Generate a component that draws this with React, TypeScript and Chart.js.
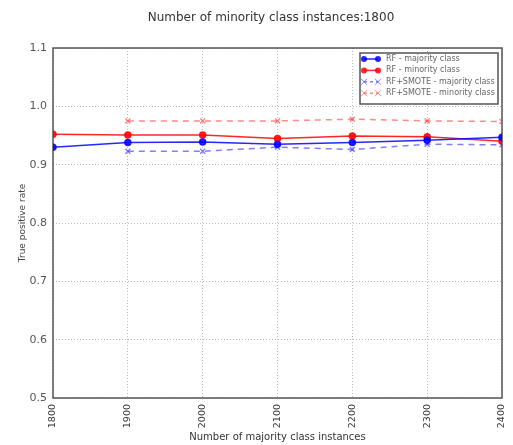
import React, { useEffect, useRef } from "react";
import { Chart, registerables } from "chart.js";
Chart.register(...registerables);

const chartTitle = "Number of minority class instances:1800";
const xTitle = "Number of majority class instances";
const yTitle = "True positive rate";
const categories = [1800, 1900, 2000, 2100, 2200, 2300, 2400];
const rfMajority = [0.93, 0.938, 0.939, 0.935, 0.938, 0.942, 0.947];
const rfMinority = [0.952, 0.951, 0.951, 0.945, 0.949, 0.948, 0.94];
const smoteMajority = [null, 0.923, 0.923, 0.93, 0.926, 0.935, 0.934];
const smoteMinority = [null, 0.975, 0.975, 0.975, 0.978, 0.975, 0.974];
const seriesLabels = [
  "RF - majority class",
  "RF - minority class",
  "RF+SMOTE - majority class",
  "RF+SMOTE - minority class",
];
const yTicks = [0.5, 0.6, 0.7, 0.8, 0.9, 1.0, 1.1];

const FONT = "'DejaVu Sans', sans-serif";

const toPoints = (vals: (number | null)[]) =>
  categories.map((c, i) => ({ x: c, y: vals[i] }));

function drawMarker(ctx: CanvasRenderingContext2D, style: string, x: number, y: number, color: string) {
  ctx.save();
  ctx.setLineDash([]);
  if (style === "circle") {
    ctx.fillStyle = color;
    ctx.beginPath();
    ctx.arc(x, y, 3, 0, Math.PI * 2);
    ctx.fill();
  } else {
    ctx.strokeStyle = color;
    ctx.lineWidth = 1;
    ctx.beginPath();
    ctx.moveTo(x - 3, y - 3);
    ctx.lineTo(x + 3, y + 3);
    ctx.moveTo(x + 3, y - 3);
    ctx.lineTo(x - 3, y + 3);
    ctx.stroke();
  }
  ctx.restore();
}

const decorPlugin = {
  id: "decor",
  beforeDatasetsDraw(chart: any) {
    const { ctx, chartArea: a } = chart;
    ctx.save();
    ctx.strokeStyle = "#555";
    ctx.lineWidth = 1.5;
    ctx.strokeRect(a.left, a.top, a.right - a.left, a.bottom - a.top);
    ctx.restore();
  },
  afterDraw(chart: any) {
    const { ctx } = chart;
    ctx.save();
    // title
    ctx.fillStyle = "#333";
    ctx.font = `12px ${FONT}`;
    ctx.textAlign = "center";
    ctx.textBaseline = "middle";
    ctx.fillText(chartTitle, 271, 18);
    // legend
    const bx = 360, by = 53, bw = 138, bh = 51;
    ctx.fillStyle = "#fff";
    ctx.fillRect(bx, by, bw, bh);
    ctx.strokeStyle = "#555";
    ctx.lineWidth = 1.5;
    ctx.strokeRect(bx, by, bw, bh);
    chart.data.datasets.forEach((ds: any, i: number) => {
      const y = by + 6 + i * 11.4;
      ctx.save();
      ctx.strokeStyle = ds.borderColor;
      ctx.lineWidth = 1.5;
      ctx.setLineDash(ds.borderDash ? [3, 3] : []);
      ctx.beginPath();
      ctx.moveTo(364, y);
      ctx.lineTo(378, y);
      ctx.stroke();
      ctx.restore();
      drawMarker(ctx, ds.pointStyle, 364, y, ds.borderColor);
      drawMarker(ctx, ds.pointStyle, 378, y, ds.borderColor);
      ctx.fillStyle = "#666";
      ctx.font = `8px ${FONT}`;
      ctx.textAlign = "left";
      ctx.textBaseline = "middle";
      ctx.fillText(ds.label, 386, y);
    });
    ctx.restore();
  },
};

export default function App() {
  const ref = useRef<HTMLCanvasElement>(null);
  useEffect(() => {
    document.body.style.margin = "0";
    const blue = "rgba(0,0,255,0.85)";
    const red = "rgba(255,0,0,0.85)";
    const blueL = "rgba(60,60,255,0.65)";
    const redL = "rgba(255,60,60,0.6)";
    const chart = new Chart(ref.current!, {
      type: "line",
      data: {
        datasets: [
          { label: seriesLabels[0], data: toPoints(rfMajority), borderColor: blue, backgroundColor: blue, pointStyle: "circle", pointRadius: 3, borderWidth: 1.5 },
          { label: seriesLabels[1], data: toPoints(rfMinority), borderColor: red, backgroundColor: red, pointStyle: "circle", pointRadius: 3, borderWidth: 1.5 },
          { label: seriesLabels[2], data: toPoints(smoteMajority), borderColor: blueL, backgroundColor: blueL, pointStyle: "crossRot", pointRadius: 3.5, borderWidth: 1.5, borderDash: [6, 5] },
          { label: seriesLabels[3], data: toPoints(smoteMinority), borderColor: redL, backgroundColor: redL, pointStyle: "crossRot", pointRadius: 3.5, borderWidth: 1.5, borderDash: [6, 5] },
        ] as any,
      },
      options: {
        animation: false,
        responsive: false,
        layout: { padding: { top: 48, right: 11, left: 0, bottom: 0 } },
        plugins: { legend: { display: false }, tooltip: { enabled: false }, title: { display: false } },
        scales: {
          x: {
            type: "linear",
            min: 1800,
            max: 2400,
            afterBuildTicks: (s: any) => { s.ticks = categories.map((v) => ({ value: v })); },
            afterFit: (s: any) => { s.height = 47; s.paddingLeft = 0; s.paddingRight = 0; },
            ticks: { minRotation: 90, maxRotation: 90, color: "#333", font: { family: FONT, size: 9.5 }, padding: 6, callback: (v: any) => String(v) },
            grid: { color: "#aaa", lineWidth: 0.8, drawTicks: false },
            border: { display: false, dash: [1, 2] },
            title: { display: true, text: xTitle, color: "#333", font: { family: FONT, size: 10 }, padding: { top: 0, bottom: 2 } },
          },
          y: {
            type: "linear",
            min: 0.5,
            max: 1.1,
            afterBuildTicks: (s: any) => { s.ticks = yTicks.map((v) => ({ value: v })); },
            afterFit: (s: any) => { s.width = 53; },
            ticks: { color: "#555", font: { family: FONT, size: 11 }, padding: 6, callback: (v: any) => Number(v).toFixed(1) },
            grid: { color: "#aaa", lineWidth: 0.8, drawTicks: false },
            border: { display: false, dash: [1, 2] },
            title: { display: true, text: yTitle, color: "#444", font: { family: FONT, size: 9 }, padding: { top: 17, bottom: 0 } },
          },
        },
      },
      plugins: [decorPlugin],
    });
    return () => chart.destroy();
  }, []);
  return (
    <div style={{ position: "absolute", left: 0, top: 0, width: 513, height: 445, background: "#fff" }}>
      <canvas ref={ref} width={513} height={445} style={{ display: "block" }} />
    </div>
  );
}
